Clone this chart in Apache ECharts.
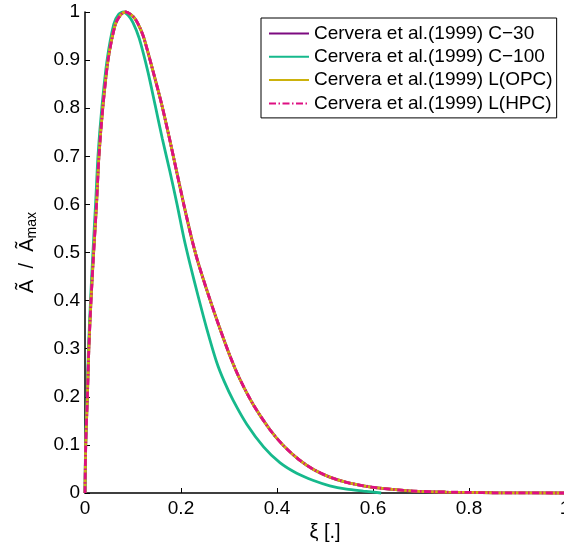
<!DOCTYPE html>
<html>
<head>
<meta charset="utf-8">
<script src="https://cdn.jsdelivr.net/npm/echarts@6/dist/echarts.min.js"></script>
<style>
html,body{margin:0;padding:0;background:#fff;}
#chart{width:564px;height:547px;}
</style>
</head>
<body>
<div id="chart"></div>
<script>
// ---- data ----
var seriesNames = [
  'Cervera et al.(1999) C\u221230',
  'Cervera et al.(1999) C\u2212100',
  'Cervera et al.(1999) L(OPC)',
  'Cervera et al.(1999) L(HPC)'
];
var xTicks = [0, 0.2, 0.4, 0.6, 0.8, 1];
var yTicks = [0, 0.1, 0.2, 0.3, 0.4, 0.5, 0.6, 0.7, 0.8, 0.9, 1];

// ξ positions shared by C-30, L(OPC), L(HPC)
var xiSlow = [0, 0.0015, 0.005, 0.008, 0.0125, 0.018, 0.024, 0.029, 0.037, 0.048, 0.063, 0.075, 0.085,
  0.095, 0.105, 0.115, 0.123, 0.142, 0.160, 0.176, 0.191, 0.206, 0.222, 0.236, 0.260, 0.281, 0.302,
  0.323, 0.351, 0.385, 0.413, 0.445, 0.476, 0.510, 0.545, 0.580, 0.615, 0.684, 0.753, 0.850, 1.0];
var c30Vals = [0, 0.1, 0.2, 0.3, 0.4, 0.5, 0.6, 0.7, 0.8, 0.9, 0.974, 0.995, 1.0,
  0.995, 0.985, 0.966, 0.945, 0.876, 0.807, 0.737, 0.668, 0.599, 0.530, 0.478, 0.403, 0.342, 0.285,
  0.236, 0.183, 0.132, 0.099, 0.070, 0.049, 0.033, 0.022, 0.015, 0.010, 0.004, 0.002, 0.0005, 0];
var opcVals = [0, 0.1, 0.2, 0.3, 0.4, 0.5, 0.6, 0.7, 0.8, 0.9, 0.974, 0.995, 1.0,
  0.995, 0.985, 0.966, 0.945, 0.876, 0.807, 0.737, 0.668, 0.599, 0.530, 0.478, 0.403, 0.342, 0.285,
  0.236, 0.183, 0.132, 0.099, 0.070, 0.049, 0.033, 0.022, 0.015, 0.010, 0.004, 0.002, 0.0005, 0];
var hpcVals = [0, 0.1, 0.2, 0.3, 0.4, 0.5, 0.6, 0.7, 0.8, 0.9, 0.974, 0.995, 1.0,
  0.995, 0.985, 0.966, 0.945, 0.876, 0.807, 0.737, 0.668, 0.599, 0.530, 0.478, 0.403, 0.342, 0.285,
  0.236, 0.183, 0.132, 0.099, 0.070, 0.049, 0.033, 0.022, 0.015, 0.010, 0.004, 0.002, 0.0005, 0];

// ξ positions for C-100
var xiFast = [0, 0.0012, 0.0045, 0.0072, 0.0115, 0.0165, 0.022, 0.027, 0.035, 0.046, 0.060, 0.070, 0.080,
  0.090, 0.100, 0.113, 0.131, 0.146, 0.161, 0.177, 0.192, 0.206, 0.219, 0.236, 0.253, 0.274, 0.290,
  0.309, 0.337, 0.372, 0.406, 0.441, 0.476, 0.510, 0.545, 0.580, 0.617];
var c100Vals = [0, 0.1, 0.2, 0.3, 0.4, 0.5, 0.6, 0.7, 0.8, 0.9, 0.975, 0.995, 1.0,
  0.993, 0.978, 0.945, 0.876, 0.807, 0.737, 0.668, 0.599, 0.530, 0.475, 0.408, 0.344, 0.273, 0.232,
  0.192, 0.143, 0.096, 0.063, 0.041, 0.026, 0.015, 0.008, 0.004, 0.0];

function pairs(xs, ys) { return xs.map(function (x, i) { return [x, ys[i]]; }); }

var FONT = 'Liberation Sans, Arial, Helvetica, sans-serif';
var chart = echarts.init(document.getElementById('chart'), null, {renderer: 'canvas'});

function lineSeries(name, data, color, width, type) {
  return {
    name: name, type: 'line', data: data, showSymbol: false, symbol: 'none',
    smooth: 0.25, animation: false, clip: false,
    lineStyle: {color: color, width: width, type: type || 'solid'},
    itemStyle: {color: color, opacity: 0}
  };
}

chart.setOption({
  backgroundColor: '#fff',
  animation: false,
  grid: {left: 85, top: 12, width: 480, height: 481, containLabel: false, outerBoundsMode: 'none'},
  xAxis: {
    type: 'value', min: 0, max: 1, interval: 0.2,
    name: '\u03BE [.]', nameLocation: 'middle', nameGap: 21,
    nameTextStyle: {fontFamily: FONT, fontSize: 20, color: '#000'},
    axisLine: {show: true, onZero: false, lineStyle: {color: '#000', width: 1.5}},
    axisTick: {show: true, inside: true, length: 5, lineStyle: {color: '#000', width: 1}},
    axisLabel: {fontFamily: FONT, fontSize: 19, color: '#000', margin: 6,
      formatter: function (v) { return xTicks.indexOf(+v.toFixed(1)) >= 0 ? String(+v.toFixed(1)) : ''; }},
    splitLine: {show: false}
  },
  yAxis: {
    type: 'value', min: 0, max: 1, interval: 0.1,
    name: '{a|\u00C3  /  \u00C3}{s|max}', nameLocation: 'middle', nameGap: 46, nameRotate: 90,
    nameTextStyle: {fontFamily: FONT, fontSize: 20, color: '#000',
      rich: {
        a: {fontFamily: FONT, fontSize: 20, color: '#000'},
        s: {fontFamily: FONT, fontSize: 14, color: '#000', padding: [9, 0, 0, 0]}
      }},
    axisLine: {show: true, onZero: false, lineStyle: {color: '#000', width: 1.5}},
    axisTick: {show: true, inside: true, length: 5, lineStyle: {color: '#000', width: 1}},
    axisLabel: {fontFamily: FONT, fontSize: 19, color: '#000', margin: 5,
      formatter: function (v) { return String(+v.toFixed(1)); }},
    splitLine: {show: false}
  },
  legend: {
    orient: 'vertical', left: 261, top: 18,
    padding: [6, 4, 5, 7], itemGap: 4.3, itemWidth: 40, itemHeight: 14,
    backgroundColor: '#fff', borderColor: '#000', borderWidth: 1, borderRadius: 0,
    itemStyle: {opacity: 0},
    textStyle: {fontFamily: FONT, fontSize: 19, lineHeight: 19, color: '#000'},
    data: seriesNames
  },
  series: [
    lineSeries(seriesNames[0], pairs(xiSlow, c30Vals), '#7D0A80', 2.8),
    lineSeries(seriesNames[1], pairs(xiFast, c100Vals), '#16B98C', 2.8),
    lineSeries(seriesNames[2], pairs(xiSlow, opcVals), '#CCB20C', 2.8),
    lineSeries(seriesNames[3], pairs(xiSlow, hpcVals), '#DE0F82', 2.8, [7, 2.5, 1.5, 2.5])
  ]
});
</script>
</body>
</html>
